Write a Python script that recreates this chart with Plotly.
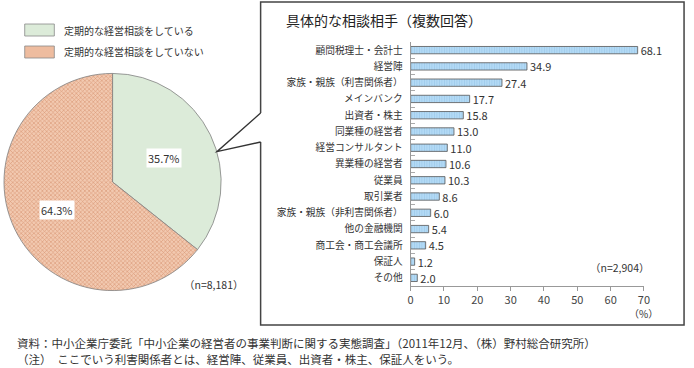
import math
import plotly.graph_objects as go

# ---- data ----
pie_labels = ["定期的な経営相談をしている", "定期的な経営相談をしていない"]
pie_values = [35.7, 64.3]
pie_n = "（n=8,181）"

bar_categories = ["顧問税理士・会計士", "経営陣", "家族・親族（利害関係者）", "メインバンク",
                  "出資者・株主", "同業種の経営者", "経営コンサルタント", "異業種の経営者",
                  "従業員", "取引業者", "家族・親族（非利害関係者）", "他の金融機関",
                  "商工会・商工会議所", "保証人", "その他"]
bar_values = [68.1, 34.9, 27.4, 17.7, 15.8, 13.0, 11.0, 10.6, 10.3, 8.6, 6.0, 5.4, 4.5, 1.2, 2.0]
bar_n = "（n=2,904）"
bar_title = "具体的な相談相手（複数回答）"
x_ticks = [0, 10, 20, 30, 40, 50, 60, 70]

notes = ["資料：中小企業庁委託「中小企業の経営者の事業判断に関する実態調査」（2011年12月、（株）野村総合研究所）",
         "（注）　ここでいう利害関係者とは、経営陣、従業員、出資者・株主、保証人をいう。"]

W, H = 694, 368
FONT = "Noto Sans CJK JP"
TXT = "#333333"


def px(x):
    return x / W


def py(y):
    return 1 - y / H


def text_at(fig, x, y, text, size, xanchor="center", color=TXT, **kw):
    fig.add_annotation(x=px(x), y=py(y), xref="paper", yref="paper", text=text,
                       xanchor=xanchor, yanchor="middle", showarrow=False,
                       font=dict(family=FONT, size=size, color=color), **kw)


fig = go.Figure()

# ---- pie ----
cx, cy, r = 111, 182, 110
fig.add_trace(go.Pie(
    values=pie_values, labels=pie_labels, sort=False, direction="clockwise",
    rotation=0, textinfo="none", hoverinfo="label+percent", showlegend=False,
    domain=dict(x=[px(cx - r), px(cx + r)], y=[py(cy + r), py(cy - r)]),
    marker=dict(colors=["#dcebd9", "#eebc9f"],
                line=dict(color="#808080", width=0.8),
                pattern=dict(shape=["", "x"], size=3, solidity=0.35,
                             fgcolor="#d99775", bgcolor="#f2c9b0")),
))

# pie percentage labels placed from slice mid-angles
cum = 0
total = sum(pie_values)
for v in pie_values:
    mid = (cum + v / 2) / total * 2 * math.pi
    cum += v
    lx = cx + math.sin(mid) * r * 0.55 - 2
    ly = cy - math.cos(mid) * r * 0.55 + 2
    text_at(fig, lx, ly, f"{v:.1f}%", 11, bgcolor="white", borderpad=1)

text_at(fig, 213, 284, pie_n, 10.5)

# legend (manual)
leg_cols = ["#dcebd9", "#eebc9f"]
for i, lab in enumerate(pie_labels):
    y0 = 24 + i * 22
    fig.add_shape(type="rect", xref="paper", yref="paper",
                  x0=px(22), x1=px(52), y0=py(y0), y1=py(y0 + 12),
                  fillcolor=leg_cols[i], line=dict(color="#888888", width=0.8))
    text_at(fig, 60, y0 + 6, lab, 10, xanchor="left")

# ---- bar chart ----
fig.add_trace(go.Bar(
    x=bar_values, y=bar_categories, orientation="h", width=0.45,
    marker=dict(color="#aad4f2", line=dict(color="#555555", width=0.8),
                pattern=dict(shape="|", size=2.5, solidity=0.3, fgcolor="#8cbbe0",
                             bgcolor="#b3daf5")),
    text=[f"{v:.1f}" for v in bar_values], textposition="outside",
    constraintext="none",
    textfont=dict(family=FONT, size=11, color=TXT), cliponaxis=False,
    showlegend=False, xaxis="x", yaxis="y",
))

fig.update_layout(
    width=W, height=H, margin=dict(l=0, r=0, t=0, b=0),
    paper_bgcolor="white", plot_bgcolor="white",
    font=dict(family=FONT, color=TXT),
    xaxis=dict(domain=[px(413), px(649.4)], range=[0, 70], tickvals=x_ticks,
               showgrid=False, zeroline=False, showline=True, linecolor="#999999",
               ticks="outside", ticklen=4, tickcolor="#999999",
               tickfont=dict(family=FONT, size=11, color="#444444"), anchor="y"),
    yaxis=dict(domain=[py(286), py(42)], autorange="reversed", showgrid=False,
               showline=True, linecolor="#999999", ticks="inside", tickson="boundaries",
               ticklen=4, tickcolor="#aaaaaa", ticklabelstandoff=5,
               tickfont=dict(family=FONT, size=9.7, color=TXT), anchor="x"),
)

text_at(fig, 285, 20, bar_title, 14, xanchor="left", color="#222222")
text_at(fig, 625, 267, bar_n, 10.5)
text_at(fig, 649, 313, "（%）", 10)

# frame with callout
frame = (f"M {px(261)} {py(113)} L {px(261)} {py(2)} L {px(690)} {py(2)} "
         f"L {px(690)} {py(325)} L {px(261)} {py(325)} L {px(261)} {py(142)}")
fig.add_shape(type="path", xref="paper", yref="paper", path=frame,
              line=dict(color="#444444", width=1.5))
ang = math.radians(74)
tipx, tipy = cx + math.sin(ang) * r, cy - math.cos(ang) * r
fig.add_shape(type="path", xref="paper", yref="paper",
              path=f"M {px(261)} {py(113)} L {px(tipx)} {py(tipy)} L {px(261)} {py(142)}",
              line=dict(color="#333333", width=1.3))

# notes
for i, t in enumerate(notes):
    text_at(fig, 12, 343 + i * 16, t, 11.5, xanchor="left")

fig.write_html("out.html", config={"displayModeBar": False},
               post_script="document.body.style.margin='0';")
